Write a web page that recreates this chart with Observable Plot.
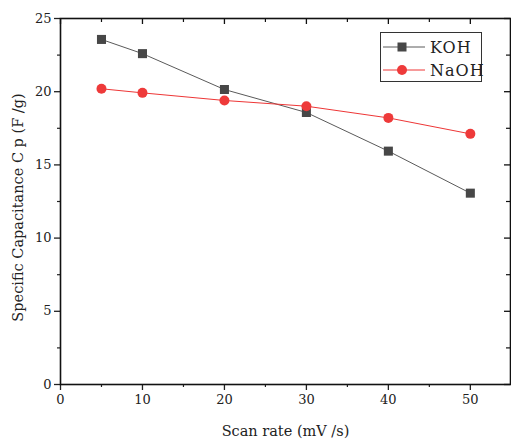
<!DOCTYPE html>
<html>
<head>
<meta charset="utf-8">
<script src="https://cdn.jsdelivr.net/npm/d3@7"></script>
<script src="https://cdn.jsdelivr.net/npm/@observablehq/plot@0.6"></script>
<style>
  html, body { margin: 0; padding: 0; background: #fff; }
  #wrap { position: relative; width: 511px; height: 439px; }
  #legend { position: absolute; left: 380px; top: 32px; width: 100px; height: 48px;
    border: 1px solid #333; background: #fff; font-family: "DejaVu Serif", serif; font-size: 16px; color: #222; }
  #legend .row { position: absolute; left: 0; height: 22px; display: flex; align-items: center; }
  #legend svg { display: block; }
  #legend span { margin-left: 5px; letter-spacing: 1px; }
</style>
</head>
<body>
<div id="wrap"></div>
<script>
const scanRates = [5, 10, 20, 30, 40, 50];
const kohValues = [23.57, 22.6, 20.15, 18.58, 15.94, 13.07];
const naohValues = [20.2, 19.92, 19.4, 19.01, 18.21, 17.12];
const seriesNames = ["KOH", "NaOH"];
const seriesColors = {KOH: {line: "#5a5a5a", marker: "#474747"}, NaOH: {line: "#ee3636", marker: "#ee3a3a"}};
const xMajor = [0, 10, 20, 30, 40, 50];
const xMinor = [5, 15, 25, 35, 45];
const yMajor = [0, 5, 10, 15, 20, 25];
const yMinor = [2.5, 7.5, 12.5, 17.5, 22.5];
const xTitle = "Scan rate (mV /s)";
const yTitle = "Specific Capacitance C p (F /g)";

const koh = scanRates.map((x, i) => ({x, y: kohValues[i], s: "KOH"}));
const naoh = scanRates.map((x, i) => ({x, y: naohValues[i], s: "NaOH"}));

const W = 511, H = 439, mL = 60, mR = 1, mT = 18, mB = 55;
const plotW = W - mL - mR, plotH = H - mT - mB;
const font = "DejaVu Serif";

const chart = Plot.plot({
  width: W, height: H,
  marginLeft: mL, marginRight: mR, marginTop: mT, marginBottom: mB,
  style: {fontFamily: font, fontSize: "13px", color: "#222", background: "#fff", overflow: "visible"},
  x: {domain: [0, 54.9]},
  y: {domain: [0, 25]},
  marks: [
    Plot.axisY(yMajor, {anchor: "left", tickSize: 6, tickPadding: 3, strokeWidth: 1.3, fontSize: 13, label: null}),
    Plot.axisY(yMinor, {anchor: "left", tickSize: 3, strokeWidth: 1.2, text: null, label: null}),
    Plot.axisX(xMajor, {anchor: "bottom", tickSize: 6, tickPadding: 4, strokeWidth: 1.3, fontSize: 13, label: null}),
    Plot.axisX(xMinor, {anchor: "bottom", tickSize: 3, strokeWidth: 1.2, text: null, label: null}),
    Plot.tickX(xMajor, {x: d => d, insetBottom: plotH - 6, stroke: "#111", strokeWidth: 1.3}),
    Plot.tickX(xMinor, {x: d => d, insetBottom: plotH - 4, stroke: "#111", strokeWidth: 1.2}),
    Plot.tickY(yMajor, {y: d => d, insetLeft: plotW - 6, stroke: "#111", strokeWidth: 1.3}),
    Plot.tickY(yMinor, {y: d => d, insetLeft: plotW - 4, stroke: "#111", strokeWidth: 1.2}),
    Plot.frame({stroke: "#111", strokeWidth: 1.6}),
    Plot.text([yTitle], {text: d => d, frameAnchor: "left", textAnchor: "middle", dx: -42, dy: 6, rotate: -90, fontSize: 14.5, fill: "#222"}),
    Plot.text([xTitle], {text: d => d, frameAnchor: "bottom", dy: 51, fontSize: 14.5, fill: "#222"}),
    Plot.line(koh, {x: "x", y: "y", stroke: seriesColors.KOH.line, strokeWidth: 1}),
    Plot.line(naoh, {x: "x", y: "y", stroke: seriesColors.NaOH.line, strokeWidth: 1}),
    Plot.dot(koh, {x: "x", y: "y", symbol: "square", r: 5.1, fill: seriesColors.KOH.marker, stroke: "none"}),
    Plot.dot(naoh, {x: "x", y: "y", symbol: "circle", r: 5, fill: seriesColors.NaOH.marker, stroke: "none"})
  ]
});

const wrap = document.getElementById("wrap");
wrap.appendChild(chart);

const legend = document.createElement("div");
legend.id = "legend";
seriesNames.forEach((name, i) => {
  const row = document.createElement("div");
  row.className = "row";
  row.style.top = (3 + i * 23) + "px";
  const c = seriesColors[name];
  const marker = name === "KOH"
    ? `<rect x="16.5" y="6.5" width="9" height="9" fill="${c.marker}"/>`
    : `<circle cx="21" cy="11" r="5" fill="${c.marker}"/>`;
  row.innerHTML = `<svg width="44" height="22"><line x1="2" x2="44" y1="11" y2="11" stroke="${c.line}" stroke-width="1"/>${marker}</svg><span>${name}</span>`;
  legend.appendChild(row);
});
wrap.appendChild(legend);
</script>
</body>
</html>
